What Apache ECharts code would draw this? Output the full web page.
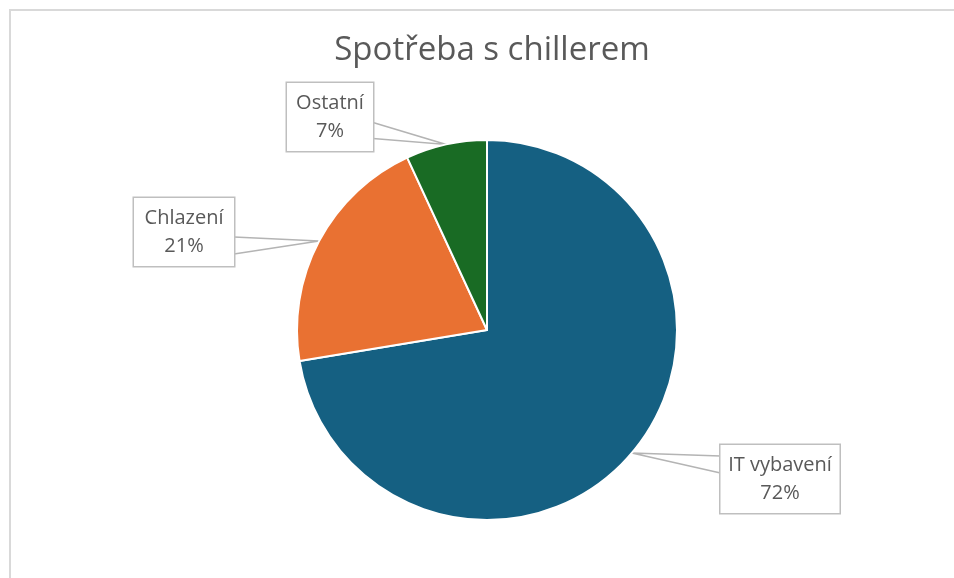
<!DOCTYPE html>
<html>
<head>
<meta charset="utf-8">
<script src="https://cdn.jsdelivr.net/npm/echarts@6/dist/echarts.min.js"></script>
</head>
<body style="margin:0">
<div id="main" style="width: 954px; height: 578px"></div>
<script>
const categories = ['IT vybavení', 'Chlazení', 'Ostatní'];
const shares = [72.4, 20.7, 6.9];
const colors = ['#156082', '#e97132', '#196b24'];

// callout box centres and where the wedge meets the box (Excel style)
const boxCentres = [[780, 479], [184, 232], [330, 117]];
const boxSizes = [[119, 68], [100, 68], [86, 65]];
const wedgeSide = ['left', 'right', 'right'];
const wedgeOffsets = [[11, 28], [39, 56], [38, 54]];

var chart = echarts.init(document.getElementById('main'));

const pieData = categories.map((name, i) => ({
    name: name,
    value: shares[i],
    itemStyle: { color: colors[i] },
    label: { width: boxSizes[i][0] - 12 }
}));

const option = {
    textStyle: { fontFamily: 'Open Sans' },
    title: {
        text: 'Spotřeba s chillerem',
        left: 487,
        textAlign: 'center',
        top: 29,
        textStyle: { fontSize: 33, fontWeight: 'normal', color: '#595959', fontFamily: 'Open Sans' }
    },
    graphic: [{
        type: 'rect',
        shape: { x: 10, y: 10, width: 1000, height: 1000 },
        style: { fill: 'none', stroke: '#d9d9d9', lineWidth: 2 },
        silent: true
    }],
    series: [{
        type: 'pie',
        center: [487, 330],
        radius: 190,
        startAngle: 90,
        clockwise: true,
        animation: false,
        itemStyle: { borderColor: '#fff', borderWidth: 2 },
        label: {
            show: true,
            formatter: p => p.name + '\n' + Math.round(p.percent) + '%',
            fontSize: 20,
            lineHeight: 28,
            color: '#595959',
            align: 'center',
            overflow: 'none',
            backgroundColor: '#fff',
            borderColor: '#bfbfbf',
            borderWidth: 1.5,
            padding: [6, 6, 6, 6]
        },
        labelLine: {
            show: true,
            lineStyle: { color: '#b4b4b4', width: 1.5 }
        },
        labelLayout: function (params) {
            const i = params.dataIndex;
            const c = boxCentres[i];
            const s = boxSizes[i];
            const top = c[1] - s[1] / 2;
            const ex = wedgeSide[i] === 'left' ? c[0] - s[0] / 2 : c[0] + s[0] / 2;
            const tip = params.labelLinePoints ? params.labelLinePoints[0] : c;
            return {
                x: c[0],
                y: c[1],
                align: 'center',
                verticalAlign: 'middle',
                labelLinePoints: [
                    [ex, top + wedgeOffsets[i][0]],
                    [tip[0], tip[1]],
                    [ex, top + wedgeOffsets[i][1]]
                ]
            };
        },
        data: pieData
    }]
};

chart.setOption(option);
</script>
</body>
</html>
